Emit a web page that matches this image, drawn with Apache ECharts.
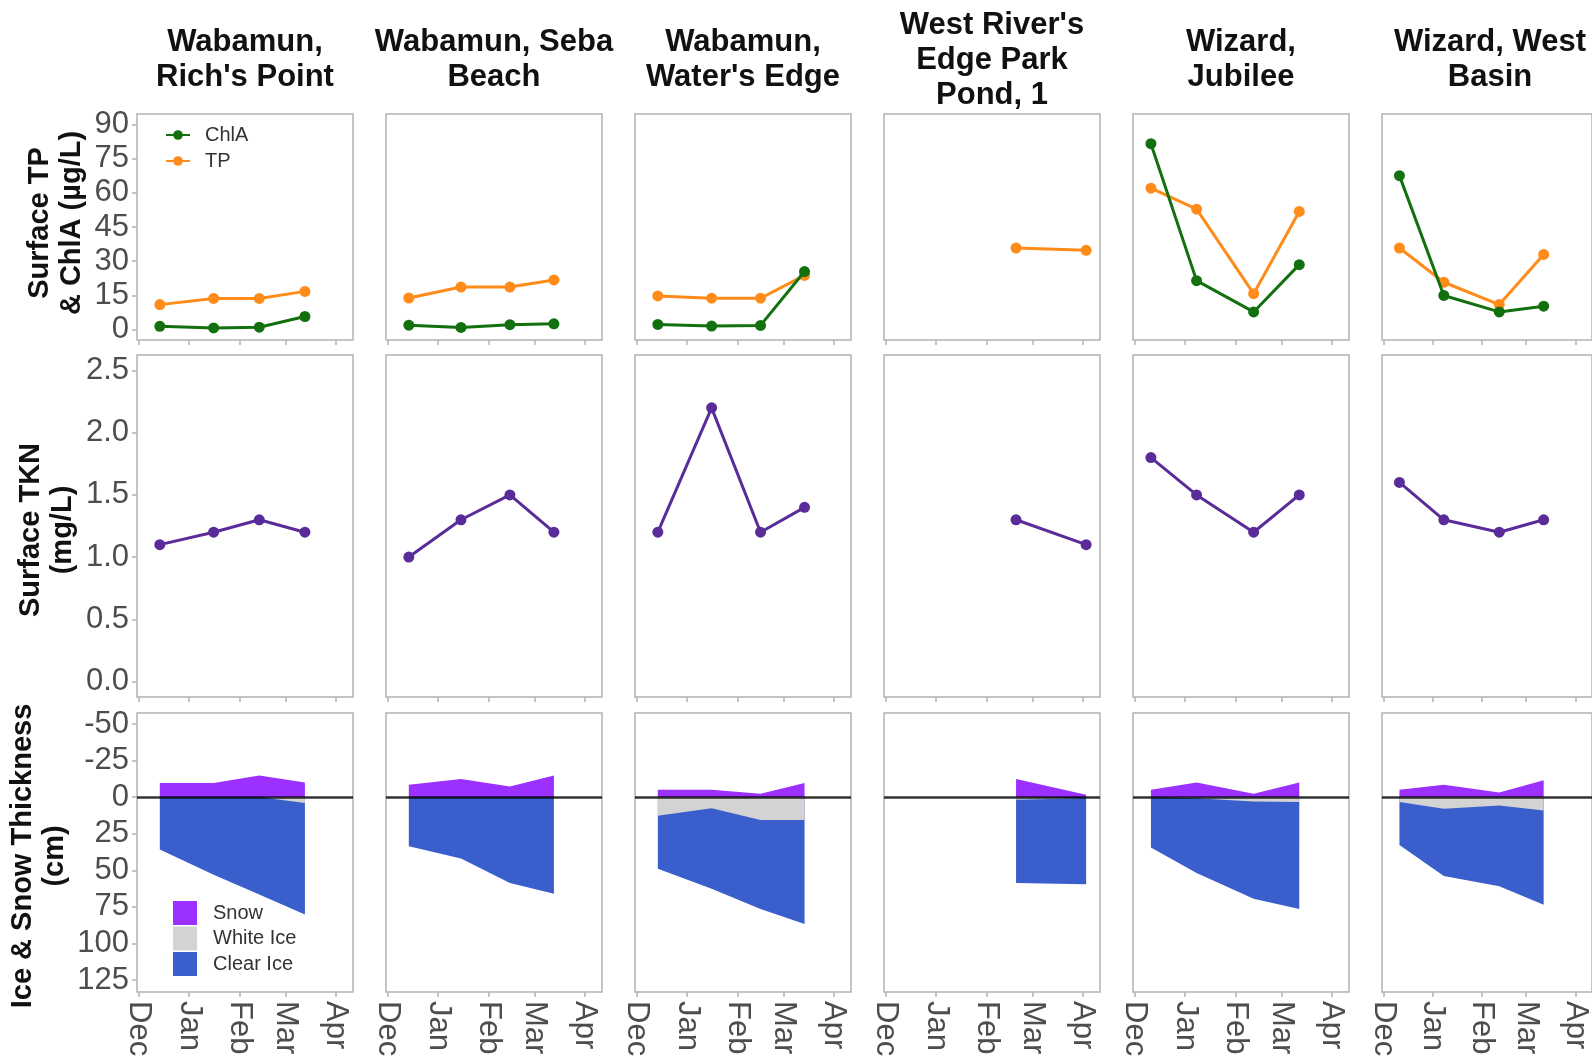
<!DOCTYPE html>
<html>
<head>
<meta charset="utf-8">
<script src="https://cdn.jsdelivr.net/npm/echarts@6/dist/echarts.min.js"></script>
<style>
html,body{margin:0;padding:0;background:#fff;}
#chart{width:1592px;height:1060px;}
</style>
</head>
<body>
<div id="chart"></div>
<script>
// ---------------- DATA ----------------
const sites = ["Wabamun,\nRich's Point", "Wabamun, Seba\nBeach", "Wabamun,\nWater's Edge",
  "West River's\nEdge Park\nPond, 1", "Wizard,\nJubilee", "Wizard, West\nBasin"];

const monthTickDates = ['2022-12-01', '2023-01-01', '2023-02-01', '2023-03-01', '2023-04-01'];
const monthLabels = ['Dec', 'Jan', 'Feb', 'Mar', 'Apr'];

const sampleDates = [
  ['2022-12-14', '2023-01-16', '2023-02-13', '2023-03-13'],
  ['2022-12-14', '2023-01-15', '2023-02-14', '2023-03-13'],
  ['2022-12-14', '2023-01-16', '2023-02-15', '2023-03-14'],
  ['2023-02-19', '2023-04-03'],
  ['2022-12-11', '2023-01-08', '2023-02-12', '2023-03-12'],
  ['2022-12-11', '2023-01-08', '2023-02-12', '2023-03-12']
];

const chlA = [
  [1.5, 0.8, 1.1, 5.8],
  [2.0, 1.0, 2.2, 2.6],
  [2.3, 1.6, 1.9, 25.5],
  [],
  [81.5, 21.5, 7.8, 28.5],
  [67.5, 15.0, 7.8, 10.3]
];
const tp = [
  [11.0, 13.7, 13.7, 16.8],
  [13.9, 18.7, 18.7, 21.8],
  [14.8, 13.8, 13.8, 23.8],
  [35.8, 34.8],
  [62.0, 52.8, 15.8, 51.8],
  [35.8, 20.8, 11.0, 33.0]
];
const tkn = [
  [1.1, 1.2, 1.3, 1.2],
  [1.0, 1.3, 1.5, 1.2],
  [1.2, 2.2, 1.2, 1.4],
  [1.3, 1.1],
  [1.8, 1.5, 1.2, 1.5],
  [1.6, 1.3, 1.2, 1.3]
];
const snow = [
  [9.7, 9.7, 14.7, 10.0],
  [8.5, 12.4, 7.3, 14.7],
  [5.0, 5.0, 2.3, 9.6],
  [12.4, 1.6],
  [5.0, 10.0, 2.3, 10.0],
  [5.0, 8.5, 3.2, 11.5]
];
const whiteIce = [
  [0, 0, 0, 4.0],
  [0, 0, 0, 0],
  [12.8, 7.6, 15.6, 15.6],
  [1.8, 0.7],
  [0, 0.7, 3.0, 3.4],
  [3.4, 8.0, 5.7, 9.2]
];
const clearIce = [
  [35.8, 53.0, 66.5, 76.3],
  [33.5, 42.0, 58.7, 66.0],
  [36.1, 55.0, 60.8, 71.1],
  [56.9, 58.9],
  [34.4, 51.1, 66.5, 73.0],
  [29.4, 45.9, 55.3, 64.4]
];

const yTicksChem = [0, 15, 30, 45, 60, 75, 90];
const yTicksTkn = [0, 0.5, 1.0, 1.5, 2.0, 2.5];
const yTicksIce = [-50, -25, 0, 25, 50, 75, 100, 125];

const rowTitles = ['Surface TP\n& ChlA (\u00b5g/L)', 'Surface TKN\n(mg/L)', 'Ice & Snow Thickness\n(cm)'];

// ---------------- HELPERS ----------------
const origin = Date.UTC(2022, 11, 1);
function dayOf(s) {
  const p = s.split('-').map(Number);
  return (Date.UTC(p[0], p[1] - 1, p[2]) - origin) / 86400000;
}
const monthDays = monthTickDates.map(dayOf);
function monthName(v) {
  const i = monthDays.indexOf(Math.round(v));
  return i >= 0 ? monthLabels[i] : '';
}

const FONT = '"Liberation Sans", Arial, Helvetica, sans-serif';
const COL_LEFT0 = 137, COL_PITCH = 249, COL_W = 216;
const rows = [
  { top: 114, height: 226 },
  { top: 355, height: 342 },
  { top: 713, height: 279 }
];
const yCfg = [
  { min: -4.5, max: 94.5, ticks: yTicksChem, fmt: v => String(v), inverse: false },
  { min: -0.125, max: 2.625, ticks: yTicksTkn, fmt: v => v.toFixed(1), inverse: false },
  { min: -57.5, max: 133.2, ticks: yTicksIce, fmt: v => String(v), inverse: true }
];

const C_CHLA = '#12700f', C_TP = '#ff8c1a', C_TKN = '#5a2c9a';
const C_SNOW = '#9b30ff', C_WHITE = '#d3d3d3', C_CLEAR = '#3a5fcd';
const BORDER = '#b3b3b3';

const grids = [], xAxes = [], yAxes = [], series = [], graphics = [];

for (let r = 0; r < 3; r++) {
  for (let c = 0; c < 6; c++) {
    const g = r * 6 + c;
    grids.push({
      left: COL_LEFT0 + c * COL_PITCH, top: rows[r].top, width: COL_W, height: rows[r].height,
      show: true, borderColor: BORDER, borderWidth: 1.5, backgroundColor: 'transparent'
    });
    xAxes.push({
      type: 'value', gridIndex: g, min: -1, max: 131.5, position: 'bottom',
      axisLine: { show: false, onZero: false }, splitLine: { show: false },
      axisTick: { show: true, customValues: monthDays, length: 5, lineStyle: { color: BORDER, width: 1.5 } },
      axisLabel: {
        show: r === 2, customValues: monthDays, rotate: -90, formatter: monthName,
        fontSize: 31, fontFamily: FONT, color: '#4d4d4d', margin: 9
      }
    });
    const yc = yCfg[r];
    yAxes.push({
      type: 'value', gridIndex: g, min: yc.min, max: yc.max, inverse: yc.inverse, position: 'left',
      axisLine: { show: false, onZero: false }, splitLine: { show: false },
      axisTick: { show: c === 0, customValues: yc.ticks, length: 5, lineStyle: { color: BORDER, width: 1.5 } },
      axisLabel: {
        show: c === 0, customValues: yc.ticks, formatter: yc.fmt,
        fontSize: 31, fontFamily: FONT, color: '#4d4d4d', margin: 8
      }
    });
  }
}

function lineSeries(name, color, g, xs, vals, z) {
  return {
    type: 'line', name: name, xAxisIndex: g, yAxisIndex: g, z: z,
    data: xs.map((x, k) => [x, vals[k]]),
    symbol: 'circle', symbolSize: 11, color: color,
    itemStyle: { color: color },
    lineStyle: { color: color, width: 3 },
    animation: false
  };
}

function areaSeries(name, color, g, xs, vals, z, extra) {
  return Object.assign({
    type: 'line', name: name, xAxisIndex: g, yAxisIndex: g,
    data: xs.map((x, k) => [x, vals[k]]),
    showSymbol: false, symbol: 'none', lineStyle: { width: 0 }, color: color,
    itemStyle: { color: color }, areaStyle: { color: color, opacity: 1, origin: 0 }, z: z, animation: false
  }, extra || {});
}

for (let c = 0; c < 6; c++) {
  const xs = sampleDates[c].map(dayOf);
  // Row 1: TP & ChlA
  series.push(lineSeries('TP', C_TP, c, xs, tp[c], 3));
  series.push(lineSeries('ChlA', C_CHLA, c, xs, chlA[c], 4));
  // Row 2: TKN
  series.push(lineSeries('TKN', C_TKN, 6 + c, xs, tkn[c], 3));
  // Row 3: ice & snow (clear ice lies beneath the white ice layer)
  const g = 12 + c;
  const iceBottom = whiteIce[c].map((w, k) => w + clearIce[c][k]);
  series.push(areaSeries('Clear Ice', C_CLEAR, g, xs, iceBottom, 2));
  series.push(areaSeries('White Ice', C_WHITE, g, xs, whiteIce[c], 3));
  series.push(areaSeries('Snow', C_SNOW, g, xs, snow[c].map(v => -v), 4, {
    markLine: {
      silent: true, symbol: ['none', 'none'], label: { show: false }, animation: false,
      lineStyle: { color: 'rgba(0,0,0,0.8)', width: 2.5, type: 'solid' },
      data: [{ yAxis: 0 }]
    }
  }));
}

// Column titles
for (let c = 0; c < 6; c++) {
  graphics.push({
    type: 'text', x: COL_LEFT0 + c * COL_PITCH + COL_W / 2, y: 60,
    style: {
      text: sites[c], font: 'bold 31px ' + FONT, fill: '#111',
      align: 'center', verticalAlign: 'middle', textAlign: 'center', textVerticalAlign: 'middle', lineHeight: 35
    }
  });
}
// Row titles
const rowTitlePos = [[56, 223], [47, 530], [39, 856]];
for (let r = 0; r < 3; r++) {
  graphics.push({
    type: 'text', x: rowTitlePos[r][0], y: rowTitlePos[r][1], rotation: Math.PI / 2,
    style: {
      text: rowTitles[r], font: 'bold 29px ' + FONT, fill: '#111',
      align: 'center', verticalAlign: 'middle', textAlign: 'center', textVerticalAlign: 'middle', lineHeight: 32
    }
  });
}

const chart = echarts.init(document.getElementById('chart'), null, { renderer: 'canvas' });
chart.setOption({
  animation: false,
  backgroundColor: '#fff',
  grid: grids,
  xAxis: xAxes,
  yAxis: yAxes,
  legend: [
    {
      data: ['ChlA', 'TP'], orient: 'vertical', left: 165, top: 125, padding: 0,
      itemWidth: 24, itemHeight: 12, itemGap: 6, selectedMode: false,
      textStyle: { fontSize: 20, fontFamily: FONT, color: '#333', padding: [0, 0, 0, 10] }
    },
    {
      data: ['Snow', 'White Ice', 'Clear Ice'], orient: 'vertical', left: 173, top: 901, padding: 0,
      icon: 'rect', itemWidth: 24, itemHeight: 24, itemGap: 1.5, selectedMode: false,
      textStyle: { fontSize: 20, fontFamily: FONT, color: '#333', padding: [0, 0, 0, 11] }
    }
  ],
  series: series,
  graphic: graphics
});
</script>
</body>
</html>
